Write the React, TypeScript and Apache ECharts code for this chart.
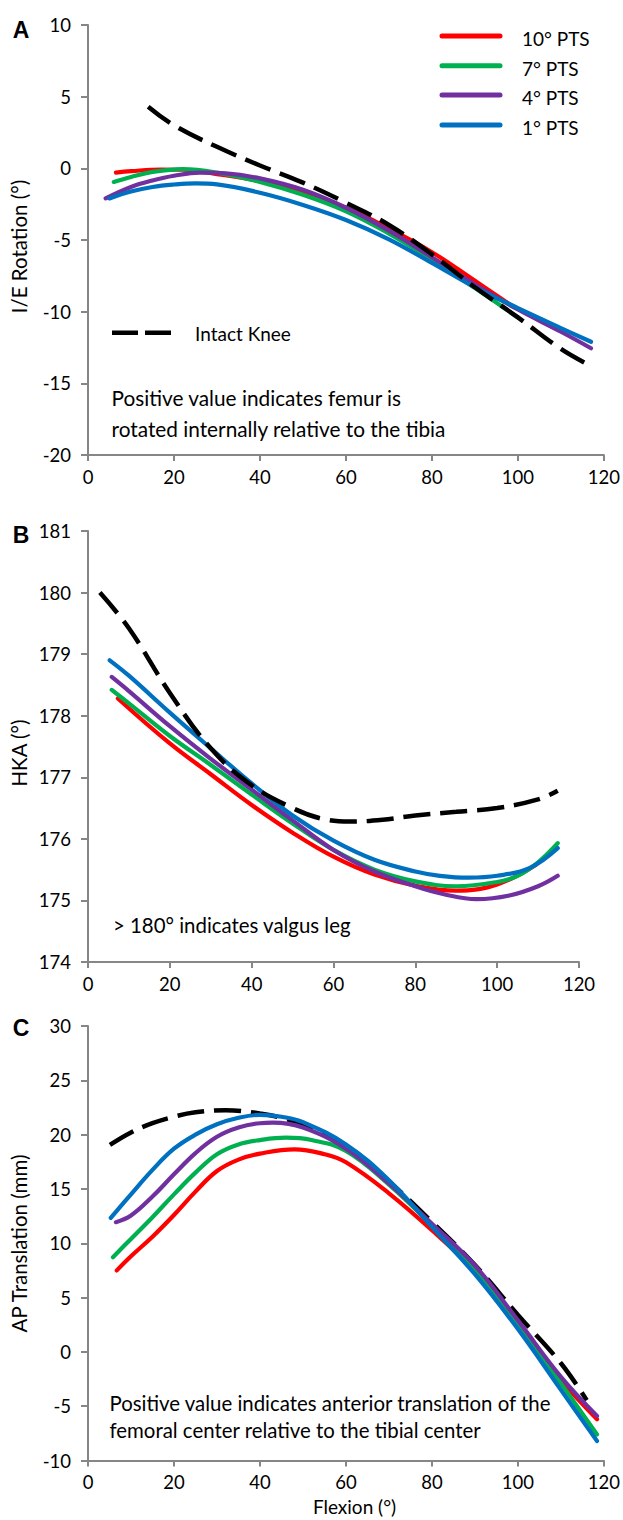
import React, { useEffect, useRef } from "react";
import * as echarts from "echarts";

// ---------- data ----------
const xTicks = [0, 20, 40, 60, 80, 100, 120];
const seriesNames = ["10° PTS", "7° PTS", "4° PTS", "1° PTS"];
const seriesColors = ["#FF0000", "#00B050", "#7030A0", "#0070C0"];
const intactName = "Intact Knee";

// Panel A: I/E rotation (deg) vs flexion
const ieIntact = [[14, 4.3], [20, 3.0], [30, 1.5], [40, 0.2], [50, -1.0], [60, -2.4], [70, -3.95], [80, -6.0], [90, -8.3], [100, -10.4], [110, -12.6], [117, -13.8]];
const ie10 = [[6.5, -0.3], [10, -0.2], [17, -0.08], [22, -0.1], [30, -0.4], [40, -0.9], [50, -1.7], [60, -2.75], [70, -4.2], [80, -5.85], [90, -7.85], [98.6, -9.6]];
const ie7 = [[6, -0.95], [10, -0.6], [15, -0.25], [22, -0.05], [30, -0.3], [40, -0.95], [50, -1.85], [60, -3.0], [70, -4.55], [80, -6.35], [90, -8.35], [100, -10.4]];
const ie4 = [[4.1, -2.1], [10, -1.3], [15, -0.85], [20, -0.52], [26, -0.3], [32, -0.35], [40, -0.7], [50, -1.5], [60, -2.75], [70, -4.35], [80, -6.2], [90, -8.1], [100, -9.85], [110, -11.4], [117, -12.55]];
const ie1 = [[5, -2.1], [10, -1.62], [15, -1.3], [20, -1.13], [25, -1.05], [30, -1.12], [40, -1.7], [50, -2.55], [60, -3.6], [70, -4.95], [80, -6.6], [90, -8.3], [100, -9.75], [110, -11.15], [117, -12.1]];

// Panel B: HKA (deg)
const hkaIntact = [[2.9, 180.0], [10, 179.42], [20, 178.37], [30, 177.47], [40, 176.87], [50, 176.5], [57, 176.33], [64, 176.28], [72, 176.31], [80, 176.38], [90, 176.44], [100, 176.5], [110, 176.64], [114.8, 176.78]];
const hka10 = [[7.3, 178.28], [20, 177.55], [30, 177.05], [40, 176.55], [50, 176.1], [60, 175.71], [70, 175.42], [80, 175.24], [90, 175.16], [100, 175.26], [109.5, 175.58]];
const hka7 = [[5.8, 178.42], [10, 178.2], [20, 177.67], [30, 177.2], [40, 176.72], [50, 176.25], [60, 175.82], [70, 175.5], [80, 175.31], [90, 175.23], [100, 175.3], [105, 175.4], [110, 175.62], [114.8, 175.93]];
const hka4 = [[5.8, 178.63], [10, 178.4], [20, 177.83], [30, 177.3], [40, 176.8], [50, 176.3], [60, 175.82], [70, 175.47], [80, 175.23], [87, 175.1], [95, 175.02], [103, 175.08], [110, 175.23], [114.8, 175.4]];
const hka1 = [[5.3, 178.9], [10, 178.65], [20, 178.05], [30, 177.47], [40, 176.9], [50, 176.38], [60, 175.97], [70, 175.66], [80, 175.47], [86, 175.4], [93, 175.37], [100, 175.4], [108, 175.53], [114.8, 175.85]];

// Panel C: AP translation (mm)
const apIntact = [[5.1, 19.05], [10, 20.2], [15, 21.05], [20, 21.65], [25, 22.05], [32, 22.25], [40, 21.95], [45, 21.55], [50, 20.9], [60, 19.0], [70, 15.7], [80, 11.95], [90, 8.0], [100, 3.4], [110, -1.05], [116, -4.45]];
const ap10 = [[6.7, 7.5], [10, 8.8], [15, 10.6], [20, 12.6], [25, 14.75], [30, 16.65], [35, 17.7], [40, 18.25], [48, 18.65], [55, 18.2], [60, 17.45], [70, 14.6], [80, 11.2], [90, 7.4], [100, 2.4], [110, -2.6], [118.4, -6.2]];
const ap7 = [[5.8, 8.72], [10, 10.4], [15, 12.4], [20, 14.5], [25, 16.5], [30, 18.2], [35, 19.1], [40, 19.5], [46, 19.72], [52, 19.5], [60, 18.5], [70, 15.4], [80, 11.65], [90, 7.6], [100, 2.55], [110, -2.9], [118.4, -7.6]];
const ap4 = [[6.5, 11.94], [10, 12.55], [15, 14.3], [20, 16.35], [25, 18.3], [30, 19.8], [35, 20.65], [40, 21.05], [43, 21.1], [50, 20.65], [60, 18.7], [70, 15.5], [80, 11.8], [90, 7.95], [100, 2.9], [110, -2.3], [118.4, -5.9]];
const ap1 = [[5.3, 12.34], [10, 14.5], [15, 16.75], [20, 18.7], [25, 20.0], [30, 20.95], [35, 21.55], [40, 21.82], [45, 21.65], [50, 21.15], [60, 19.1], [70, 15.8], [80, 11.5], [90, 7.15], [100, 2.1], [110, -3.5], [118.4, -8.2]];

const yTicksA = [-20, -15, -10, -5, 0, 5, 10];
const yTicksB = [174, 175, 176, 177, 178, 179, 180, 181];
const yTicksC = [-10, -5, 0, 5, 10, 15, 20, 25, 30];

const FONT = "Lato";
const AXIS_COLOR = "#868686";

export default function App() {
  const ref = useRef<HTMLDivElement>(null);

  useEffect(() => {
    if (!ref.current) return;
    const chart = echarts.init(ref.current, undefined, { renderer: "svg" });

    const grids = [
      { left: 88, top: 25, width: 517, height: 430 },
      { left: 88, top: 531, width: 491, height: 431 },
      { left: 88, top: 1026, width: 517, height: 434.5 },
    ];

    const xAxis = grids.map((_, i) => ({
      type: "value",
      gridIndex: i,
      min: xTicks[0],
      max: xTicks[xTicks.length - 1],
      interval: 20,
      axisLine: { show: true, onZero: false, lineStyle: { color: AXIS_COLOR, width: 2 } },
      axisTick: { show: true, length: 6, lineStyle: { color: AXIS_COLOR, width: 2 } },
      axisLabel: { fontFamily: FONT, fontSize: 18.5, color: "#000", margin: 12 },
      splitLine: { show: false },
    }));

    const yTickSets = [yTicksA, yTicksB, yTicksC];
    const yAxis = yTickSets.map((t, i) => ({
      type: "value",
      gridIndex: i,
      min: t[0],
      max: t[t.length - 1],
      interval: t[1] - t[0],
      axisLine: { show: true, onZero: false, lineStyle: { color: AXIS_COLOR, width: 2 } },
      axisTick: { show: true, length: 7, lineStyle: { color: AXIS_COLOR, width: 2 } },
      axisLabel: { fontFamily: FONT, fontSize: 18.5, color: "#000", margin: 17 },
      splitLine: { show: false },
    }));

    const colored = (name: string, data: number[][], color: string, idx: number, z: number) => ({
      type: "line",
      name,
      xAxisIndex: idx,
      yAxisIndex: idx,
      data,
      smooth: 0.4,
      showSymbol: false,
      symbol: "none",
      z,
      lineStyle: { color, width: 4.2, cap: "round" },
    });
    const dashed = (data: number[][], idx: number, z: number) => ({
      type: "line",
      name: intactName,
      xAxisIndex: idx,
      yAxisIndex: idx,
      data,
      smooth: 0.4,
      showSymbol: false,
      symbol: "none",
      z,
      lineStyle: { color: "#000", width: 4.5, type: [27, 10], cap: "butt" },
    });

    const panelSets = [
      { intact: ieIntact, lines: [ie10, ie7, ie4, ie1], intactZ: 10 },
      { intact: hkaIntact, lines: [hka10, hka7, hka4, hka1], intactZ: 10 },
      { intact: apIntact, lines: [ap10, ap7, ap4, ap1], intactZ: 1 },
    ];
    const series: any[] = [];
    panelSets.forEach((p, i) => {
      series.push(dashed(p.intact, i, p.intactZ));
      p.lines.forEach((d, k) => series.push(colored(seriesNames[k], d, seriesColors[k], i, 2 + k)));
    });

    const txt = (text: string, x: number, y: number, extra: any = {}) => ({
      type: "text",
      x,
      y,
      style: {
        text,
        fontFamily: FONT,
        fontSize: 19,
        fill: "#000",
        textAlign: "left",
        textVerticalAlign: "middle",
        ...extra,
      },
    });

    const legendYs = [36, 65.7, 95, 125];
    const graphic: any[] = [];
    // panel letters
    [["A", 30], ["B", 535], ["C", 1028]].forEach(([l, y]) =>
      graphic.push(txt(l as string, 21, y as number, { fontFamily: "Liberation Sans", fontWeight: "bold", fontSize: 23, textAlign: "center" }))
    );
    // legend of colored series
    seriesNames.forEach((n, k) => {
      graphic.push({
        type: "line",
        shape: { x1: 442, y1: legendYs[k], x2: 500, y2: legendYs[k] },
        style: { stroke: seriesColors[k], lineWidth: 5, lineCap: "round" },
      });
      graphic.push(txt(n, 522, legendYs[k] + 2.5));
    });
    // intact legend
    graphic.push({
      type: "line",
      shape: { x1: 112, y1: 332.7, x2: 171, y2: 332.7 },
      style: { stroke: "#000", lineWidth: 4.5, lineDash: [26, 7] },
    });
    graphic.push(txt(intactName, 195, 333.5));
    // annotations
    const note = { fontSize: 20.4 };
    graphic.push(txt("Positive value indicates femur is", 111.5, 397, { fontSize: 20.8 }));
    graphic.push(txt("rotated internally relative to the tibia", 111.5, 428.5, { fontSize: 20.8 }));
    graphic.push(txt("> 180° indicates valgus leg", 113, 925, note));
    graphic.push(txt("Positive value indicates anterior translation of the", 109.5, 1402.5, note));
    graphic.push(txt("femoral center relative to the tibial center", 109.5, 1429.5, note));
    // axis titles
    const rot = (text: string, y: number) => ({
      type: "text",
      x: 19,
      y,
      rotation: Math.PI / 2,
      style: { text, fontFamily: FONT, fontSize: 20.5, fill: "#000", textAlign: "center", textVerticalAlign: "middle" },
    });
    graphic.push(rot("I/E Rotation (°)", 246.5));
    graphic.push(rot("HKA (°)", 753));
    graphic.push(rot("AP Translation (mm)", 1243.5));
    graphic.push(txt("Flexion (°)", 354.5, 1506.5, { textAlign: "center" }));

    chart.setOption({
      animation: false,
      backgroundColor: "#fff",
      grid: grids.map((g) => ({ ...g, containLabel: false })),
      xAxis,
      yAxis,
      series,
      graphic,
    });

    return () => chart.dispose();
  }, []);

  return (
    <div
      ref={ref}
      style={{ position: "absolute", left: 0, top: 0, width: 623, height: 1520 }}
    />
  );
}
